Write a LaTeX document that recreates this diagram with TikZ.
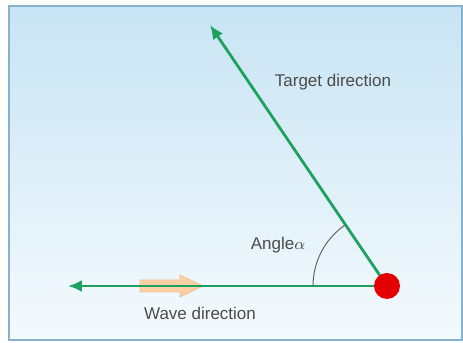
\documentclass[tikz,border=0pt]{standalone}
\usepackage{fontspec}
\setmainfont{Liberation Sans}
\usetikzlibrary{arrows.meta,calc}

\definecolor{skytop}{RGB}{200,228,244}
\definecolor{skybot}{RGB}{244,250,253}
\definecolor{frameblue}{RGB}{135,178,205}
\definecolor{rayGreen}{RGB}{30,160,95}
\definecolor{waveOrange}{RGB}{250,208,165}
\definecolor{labelgray}{RGB}{75,75,75}

\begin{document}
\begin{tikzpicture}[x=0.5pt,y=0.5pt,font=\fontsize{8.5}{10}\selectfont,
  ray/.style={draw=rayGreen,line width=1.4pt,-{Latex[length=7pt,width=6pt]}},
  lbl/.style={text=labelgray,inner sep=0pt}]
\useasboundingbox (0,0) rectangle (463,343);
\shade[top color=skytop,bottom color=skybot,draw=frameblue,line width=1pt] (9,3) rectangle (462,337);
% wave arrow on the baseline
\draw[waveOrange!85!brown,fill=waveOrange,line width=0.4pt] (140,51) -- (180,51) -- (180,46) -- (203,57) -- (180,68) -- (180,63) -- (140,63) -- cycle;
\coordinate (src) at (387,57);
\coordinate (wtip) at (68,57);
\coordinate (ttip) at (210,318);
\draw[ray] (src) -- (wtip);
\draw[ray] (src) -- (ttip);
\node[circle,fill=red!90!black,minimum size=13pt,inner sep=0pt] (dot) at (src) {};
\draw[black!60,line width=0.5pt] (src) ++(180:74) arc[start angle=180,end angle=124,radius=74];
\node[lbl] (tlabel) at (333,261) {Target direction};
\node[lbl] (alabel) at (278,98) {Angle$\alpha$};
\node[lbl] (wlabel) at (200,30) {Wave direction};
\end{tikzpicture}
\end{document}
